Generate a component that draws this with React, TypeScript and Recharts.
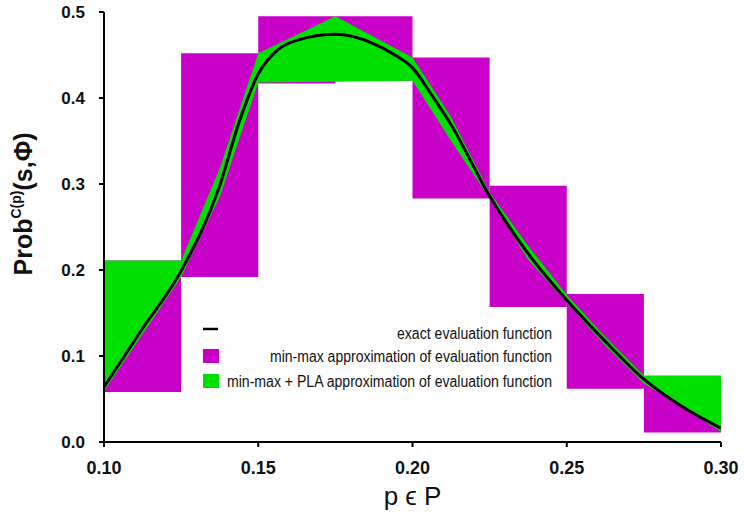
import {Area, ComposedChart, Customized, Line, ReferenceArea, XAxis, YAxis} from "recharts";

/**
 * Exact evaluation function vs. min-max and min-max + PLA approximations.
 */

// exact evaluation function
const exactP = [0.1, 0.1125, 0.125, 0.1375, 0.1438, 0.15, 0.1563, 0.1625, 0.175, 0.1875, 0.1938,
    0.2, 0.2063, 0.2125, 0.225, 0.2375, 0.25, 0.2625, 0.275, 0.2875, 0.3];
const exactProb = [0.064, 0.132, 0.199, 0.298, 0.372, 0.428, 0.456, 0.467, 0.474, 0.463, 0.451,
    0.435, 0.403, 0.369, 0.286, 0.219, 0.165, 0.117, 0.073, 0.041, 0.016];

// min-max boxes, one per interval
const boxEdges = [0.1, 0.125, 0.15, 0.175, 0.2, 0.225, 0.25, 0.275, 0.3];
const boxMin = [0.058, 0.192, 0.417, 0.420, 0.283, 0.157, 0.062, 0.011];
const boxMax = [0.211, 0.452, 0.495, 0.495, 0.447, 0.298, 0.172, 0.077];

// min-max + PLA band
const plaP = [0.1, 0.125, 0.1375, 0.15, 0.175, 0.2, 0.2125, 0.225, 0.2375, 0.25, 0.2625, 0.275, 0.3];
const plaLow = [0.059, 0.192, 0.285, 0.418, 0.419, 0.420, 0.350, 0.283, 0.212, 0.162, 0.112, 0.068, 0.012];
const plaHigh = [0.211, 0.211, 0.318, 0.452, 0.495, 0.447, 0.378, 0.290, 0.228, 0.171, 0.122, 0.077, 0.077];

const xTicks = [0.1, 0.15, 0.2, 0.25, 0.3];
const yTicks = [0, 0.1, 0.2, 0.3, 0.4, 0.5];

const legendLabels = [
    "exact evaluation function",
    "min-max approximation of evaluation function",
    "min-max + PLA approximation of evaluation function",
];

const MAGENTA = "#c800c8";
const GREEN = "#00e000";
const FONT = "'Liberation Sans', Arial, sans-serif";

const exactData = exactP.map((p, i) => ({p, exact: exactProb[i]}));
const plaData = plaP.map((p, i) => ({p, band: [plaLow[i], plaHigh[i]]}));

function YTitle() {
    return (
        <text transform="rotate(-90)" x={-204} y={32} textAnchor="middle"
              fontFamily={FONT} fontWeight="bold" fontSize={25} fill="#111">
            Prob<tspan fontSize={14} dy={-11}>C(p)</tspan>
            <tspan dy={11}>(s,Φ)</tspan>
        </text>
    );
}

function LegendBox() {
    const textWidths = [155, 282, 325];
    const rowY = [333, 356, 381];
    return (
        <g>
            <line x1={203} x2={218} y1={329} y2={329} stroke="#000" strokeWidth={2.5}/>
            <rect x={203} y={349} width={16} height={14} fill={MAGENTA}/>
            <rect x={203} y={374} width={16} height={14} fill={GREEN}/>
            {legendLabels.map((t, i) => (
                <text key={t} x={552} y={rowY[i] + 6} textAnchor="end" fontFamily={FONT}
                      fontSize={16} fill="#111" textLength={textWidths[i]}
                      lengthAdjust="spacingAndGlyphs">
                    {t}
                </text>
            ))}
        </g>
    );
}

function App() {
    return (
        <div style={{position: "absolute", left: 0, top: 0, background: "#fff"}}>
            <ComposedChart width={744} height={515} margin={{top: 12, right: 23, bottom: 0, left: 0}}>
                <XAxis
                    type="number"
                    dataKey="p"
                    domain={[0.1, 0.3]}
                    ticks={xTicks}
                    allowDataOverflow
                    tickFormatter={(v: number) => v.toFixed(2)}
                    height={73}
                    tickSize={5}
                    tickMargin={14}
                    axisLine={{stroke: "#000", strokeWidth: 2}}
                    tickLine={{stroke: "#000", strokeWidth: 2}}
                    tick={{fontSize: 18, fontWeight: "bold", fill: "#111", fontFamily: FONT}}
                    label={{value: "p ϵ P", position: "insideBottom", offset: 10, fontSize: 26, fill: "#111", fontFamily: FONT}}
                />
                <YAxis
                    type="number"
                    domain={[0, 0.5]}
                    ticks={yTicks}
                    allowDataOverflow
                    tickFormatter={(v: number) => v.toFixed(1)}
                    width={104}
                    tickSize={5}
                    tickMargin={14}
                    axisLine={{stroke: "#000", strokeWidth: 2}}
                    tickLine={{stroke: "#000", strokeWidth: 2}}
                    tick={{fontSize: 17, fontWeight: "bold", fill: "#111", fontFamily: FONT}}
                    label={<YTitle/>}
                />
                {boxMin.map((lo, i) => (
                    <ReferenceArea
                        key={i}
                        x1={boxEdges[i]}
                        x2={boxEdges[i + 1]}
                        y1={lo}
                        y2={boxMax[i]}
                        fill={MAGENTA}
                        fillOpacity={1}
                        stroke="none"
                        ifOverflow="visible"
                    />
                ))}
                <Area
                    data={plaData}
                    dataKey="band"
                    type="linear"
                    fill={GREEN}
                    fillOpacity={1}
                    stroke="none"
                    isAnimationActive={false}
                />
                <Line
                    data={exactData}
                    dataKey="exact"
                    type="monotone"
                    stroke="#000"
                    strokeWidth={3}
                    dot={false}
                    isAnimationActive={false}
                />
                <Customized component={LegendBox}/>
            </ComposedChart>
        </div>
    );
}

export default App;
